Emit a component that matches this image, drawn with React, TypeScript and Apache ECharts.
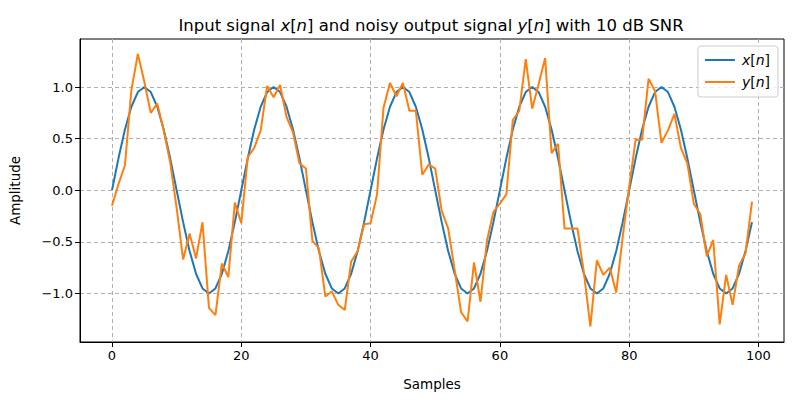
import React, { useEffect, useRef } from "react";
import * as echarts from "echarts";

const xSignal: number[] = [
  0, 0.309, 0.588, 0.809, 0.951, 1, 0.951, 0.809, 0.588, 0.309, 0, -0.309, -0.588, -0.809, -0.951, -1, -0.951, -0.809, -0.588, -0.309,
  0, 0.309, 0.588, 0.809, 0.951, 1, 0.951, 0.809, 0.588, 0.309, 0, -0.309, -0.588, -0.809, -0.951, -1, -0.951, -0.809, -0.588, -0.309,
  0, 0.309, 0.588, 0.809, 0.951, 1, 0.951, 0.809, 0.588, 0.309, 0, -0.309, -0.588, -0.809, -0.951, -1, -0.951, -0.809, -0.588, -0.309,
  0, 0.309, 0.588, 0.809, 0.951, 1, 0.951, 0.809, 0.588, 0.309, 0, -0.309, -0.588, -0.809, -0.951, -1, -0.951, -0.809, -0.588, -0.309,
  0, 0.309, 0.588, 0.809, 0.951, 1, 0.951, 0.809, 0.588, 0.309, 0, -0.309, -0.588, -0.809, -0.951, -1, -0.951, -0.809, -0.588, -0.309,
];

const ySignal: number[] = [
  -0.15, 0.06, 0.24, 0.97, 1.32, 1.05, 0.75, 0.84, 0.58, 0.27,
  -0.17, -0.67, -0.42, -0.66, -0.31, -1.14, -1.21, -0.71, -0.84, -0.12,
  -0.32, 0.32, 0.41, 0.58, 1.01, 0.9, 1.02, 0.71, 0.56, 0.26,
  0.21, -0.49, -0.56, -1.03, -0.98, -1.11, -1.16, -0.69, -0.59, -0.33,
  -0.32, -0.04, 0.8, 1.04, 0.91, 1.04, 0.77, 0.77, 0.15, 0.25,
  0.21, -0.2, -0.37, -0.77, -1.18, -1.27, -0.7, -1.08, -0.49, -0.21,
  -0.13, -0.04, 0.68, 0.77, 1.27, 0.79, 1.03, 1.28, 0.36, 0.45,
  -0.37, -0.37, -0.37, -0.8, -1.32, -0.68, -0.82, -0.75, -0.99, -0.45,
  0.03, 0.49, 0.49, 1.08, 0.96, 0.46, 0.58, 0.74, 0.41, 0.26,
  -0.13, -0.23, -0.64, -0.48, -1.3, -0.82, -1.11, -0.73, -0.61, -0.11,
];

const xTicks: number[] = [0, 20, 40, 60, 80, 100];
const yTicks: number[] = [-1, -0.5, 0, 0.5, 1];
const seriesNames: string[] = ["x[n]", "y[n]"];

const FONT = "DejaVu Sans";

export default function App() {
  const ref = useRef<HTMLDivElement>(null);
  useEffect(() => {
    if (!ref.current) return;
    const chart = echarts.init(ref.current, undefined, { renderer: "svg" });
    const toPairs = (arr: number[]) => arr.map((v, i) => [i, v]);
    const mathRich = {
      n: { fontFamily: FONT, fontSize: 14, color: "#000" },
      i: { fontFamily: FONT, fontSize: 14, fontStyle: "italic", color: "#000" },
    };
    const legendFmt = (name: string) => {
      const v = name.charAt(0);
      return `{i|${v}}{n|[}{i|n}{n|]}`;
    };
    chart.setOption({
      animation: false,
      backgroundColor: "#fff",
      grid: {
        left: 79,
        right: 16,
        top: 39,
        bottom: 58,
        show: true,
        borderColor: "#000",
        borderWidth: 1,
        containLabel: false,
      },
      graphic: [
        {
          type: "text",
          x: 431,
          y: 25,
          style: {
            text:
              "{n|Input signal }{i|x}{n|[}{i|n}{n|] and noisy output signal }{i|y}{n|[}{i|n}{n|] with 10 dB SNR}",
            rich: {
              n: { fontFamily: FONT, fontSize: 16.5, fill: "#000" },
              i: { fontFamily: FONT, fontSize: 16.5, fontStyle: "italic", fill: "#000" },
            },
            align: "center",
            verticalAlign: "middle",
          },
        },
      ],
      legend: {
        orient: "vertical",
        right: 22,
        top: 46,
        padding: [7, 8, 8, 7],
        itemGap: 8,
        itemWidth: 30,
        itemHeight: 2,
        icon: "rect",
        backgroundColor: "rgba(255,255,255,0.8)",
        borderColor: "#cccccc",
        borderWidth: 1,
        borderRadius: 3,
        data: seriesNames,
        formatter: legendFmt,
        textStyle: { rich: mathRich, padding: [0, 0, 0, 2] },
      },
      xAxis: {
        type: "value",
        min: -4.95,
        max: 103.95,
        name: "Samples",
        nameLocation: "middle",
        nameGap: 35,
        nameTextStyle: { fontFamily: FONT, fontSize: 13.5, color: "#000" },
        axisLine: { show: true, onZero: false, lineStyle: { color: "#000", width: 1 } },
        axisTick: { show: true, length: 5, lineStyle: { color: "#000" }, customValues: xTicks },
        axisLabel: {
          customValues: xTicks,
          fontFamily: FONT,
          fontSize: 13,
          color: "#000",
          margin: 7,
          showMinLabel: true,
          showMaxLabel: true,
        },
        splitLine: { show: true, lineStyle: { color: "#b0b0b0", width: 1, type: [4, 3] } },
      },
      yAxis: {
        type: "value",
        min: -1.47,
        max: 1.465,
        name: "Amplitude",
        nameLocation: "middle",
        nameGap: 58,
        nameRotate: 90,
        nameTextStyle: { fontFamily: FONT, fontSize: 13.5, color: "#000" },
        axisLine: { show: true, onZero: false, lineStyle: { color: "#000", width: 1 } },
        axisTick: { show: true, length: 5, lineStyle: { color: "#000" }, customValues: yTicks },
        axisLabel: {
          customValues: yTicks,
          fontFamily: FONT,
          fontSize: 13,
          color: "#000",
          margin: 7,
          formatter: (v: number) => (v < 0 ? "\u2212" : "") + Math.abs(v).toFixed(1),
        },
        splitLine: { show: true, lineStyle: { color: "#b0b0b0", width: 1, type: [4, 3] } },
      },
      series: [
        {
          name: seriesNames[0],
          type: "line",
          data: toPairs(xSignal),
          symbol: "none",
          showSymbol: false,
          lineStyle: { color: "#1f77b4", width: 2 },
          itemStyle: { color: "#1f77b4" },
          z: 2,
        },
        {
          name: seriesNames[1],
          type: "line",
          data: toPairs(ySignal),
          symbol: "none",
          showSymbol: false,
          lineStyle: { color: "#ff7f0e", width: 2 },
          itemStyle: { color: "#ff7f0e" },
          z: 3,
        },
      ],
    });
    return () => chart.dispose();
  }, []);
  return <div ref={ref} style={{ width: 800, height: 400, position: "absolute", left: 0, top: 0 }} />;
}
